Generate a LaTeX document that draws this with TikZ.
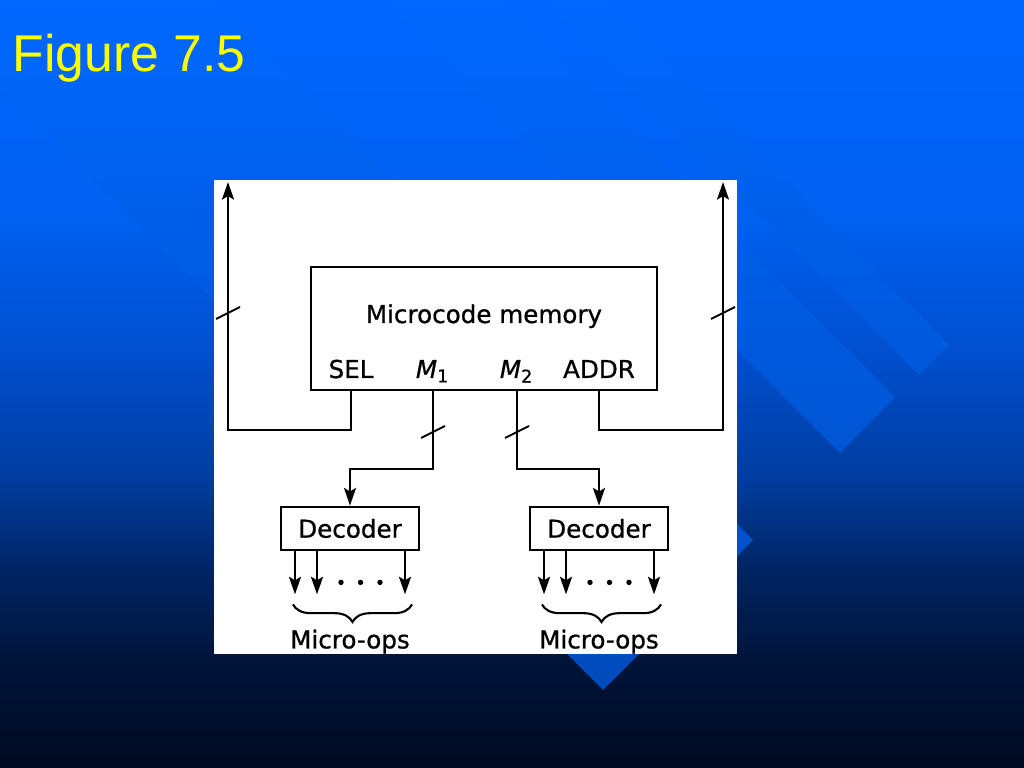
\documentclass[tikz,border=0pt]{standalone}
\usepackage{fontspec}
\newfontfamily\figfont[FakeBold=0.8]{DejaVu Sans}
\newfontfamily\titlefont{Liberation Sans}
\usetikzlibrary{arrows.meta,decorations.pathreplacing}

\definecolor{bg0}{RGB}{0,102,255}
\definecolor{bg1}{RGB}{0,96,240}
\definecolor{bg2}{RGB}{0,78,204}
\definecolor{bg3}{RGB}{0,60,158}
\definecolor{bg4}{RGB}{0,36,98}
\definecolor{bg5}{RGB}{0,20,58}
\definecolor{bg6}{RGB}{0,10,32}
\definecolor{bandtop}{RGB}{0,104,255}
\definecolor{bandbot}{RGB}{0,72,180}
\definecolor{titleyellow}{RGB}{255,255,0}

\tikzset{
	lbl/.style={font=\figfont\fontsize{7}{8}\selectfont, inner sep=0pt},
	box/.style={draw, line width=0.8pt, inner sep=0pt},
	decbox/.style={box, font=\figfont\fontsize{7}{8}\selectfont, minimum width=13.8mm, minimum height=4.3mm},
	wire/.style={line width=0.75pt},
	sig/.style={wire, -{Stealth[length=5pt,width=3.4pt,inset=1pt]}},
	busmark/.style={line width=0.55pt},
	figtitle/.style={font=\titlefont\fontsize{14.7}{17}\selectfont, text=titleyellow, inner sep=0pt}
}

\begin{document}
\begin{tikzpicture}[x=0.1mm,y=-0.1mm]
	\useasboundingbox (0,0) rectangle (1024,768);
	\foreach \ya/\yb/\ca/\cb in {0/220/bg0/bg1,220/360/bg1/bg2,360/480/bg2/bg3,480/570/bg3/bg4,570/660/bg4/bg5,660/768/bg5/bg6}
		\shade[top color=\ca,bottom color=\cb] (0,\ya) rectangle (1024,\yb+1);
	\begin{scope}
		\clip (544,0) -- (604,0) -- (949,345) -- (919,375) -- cycle
			(387,0) -- (498,0) -- (895,397) -- (840,453) -- cycle
			(0,0) -- (213,0) -- (753,540) -- (603,690) -- (0,87) -- cycle;
		\shade[top color=bandtop,bottom color=bandbot] (0,0) rectangle (1024,768);
	\end{scope}
	\fill[white] (214,180) rectangle (737,654);

	\node[figtitle, anchor=base west] (title) at (12,72) {Figure 7.5};

	\node[box, minimum width=34.6mm, minimum height=12.3mm] (mem) at (484,328.5) {};
	\node[lbl, anchor=base] (memname) at (484,323) {Microcode memory};
	\node[lbl, anchor=base] (sel) at (351,378) {SEL};
	\node[lbl, anchor=base] (m1) at (433,378) {\textit{M}\textsubscript{1}};
	\node[lbl, anchor=base] (m2) at (517,378) {\textit{M}\textsubscript{2}};
	\node[lbl, anchor=base] (addr) at (599,378) {ADDR};

	\node[decbox] (dec1) at (350,528.5) {Decoder};
	\node[decbox] (dec2) at (599,528.5) {Decoder};

	\coordinate (lefttop) at (228,182);
	\coordinate (righttop) at (723,182);
	\coordinate (selbend) at (228,430);
	\coordinate (addrbend) at (723,430);
	\coordinate (m1bend) at (433,469);
	\coordinate (m2bend) at (517,469);

	\draw[sig] (sel |- mem.south) |- (selbend) -- (lefttop);
	\draw[sig] (addr |- mem.south) |- (addrbend) -- (righttop);
	\draw[sig] (m1 |- mem.south) -- (m1bend) -| (dec1.north);
	\draw[sig] (m2 |- mem.south) -- (m2bend) -| (dec2.north);

	\coordinate (selmark) at (228,313);
	\coordinate (addrmark) at (723,313);
	\coordinate (m1mark) at (433,432);
	\coordinate (m2mark) at (517,432);
	\foreach \c in {selmark,addrmark,m1mark,m2mark}
		\draw[busmark] ([shift={(-12,6)}]\c) -- ([shift={(12,-6)}]\c);

	\foreach \d in {dec1,dec2} {
		\foreach \dx in {-55,-33,55}
			\draw[sig] ([xshift=\dx*0.1mm]\d.south) -- ([xshift=\dx*0.1mm,yshift=-4.3mm]\d.south);
		\foreach \dx in {-9,10.5,30}
			\fill ([xshift=\dx*0.1mm,yshift=-3.1mm]\d.south) circle (2.7);
		\draw[line width=0.6pt, decorate, decoration={brace,mirror,amplitude=5pt}] ([xshift=-5.7mm,yshift=-5.3mm]\d.south) -- ([xshift=6.2mm,yshift=-5.3mm]\d.south);
	}
	\node[lbl, anchor=base] (ops1) at ([yshift=-9.7mm]dec1.south) {Micro-ops};
	\node[lbl, anchor=base] (ops2) at ([yshift=-9.7mm]dec2.south) {Micro-ops};
\end{tikzpicture}
\end{document}
